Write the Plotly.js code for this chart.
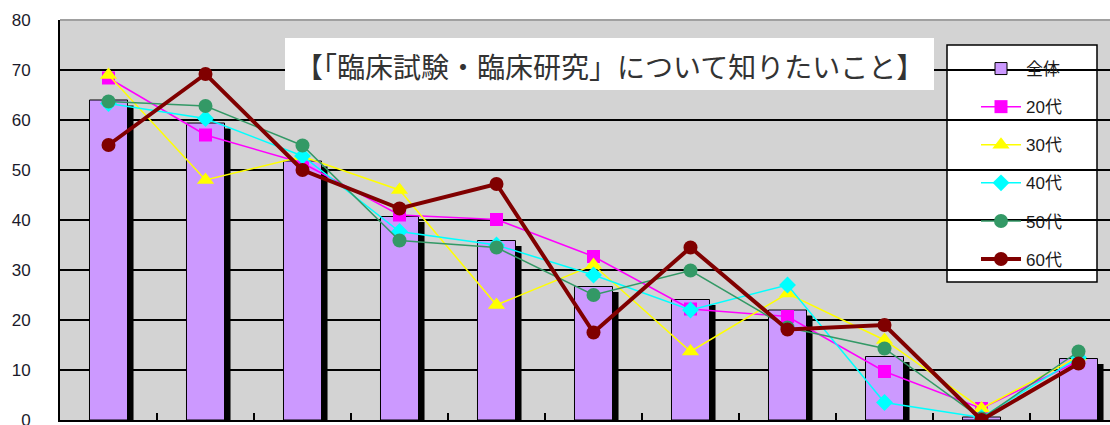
<!DOCTYPE html>
<html>
<head>
<meta charset="utf-8">
<script src="https://cdn.plot.ly/plotly-3.0.1.min.js"></script>
<style>
html,body{margin:0;padding:0;overflow:hidden;background:#fff;width:1110px;height:425px;}
#chart{width:1135px;height:460px;}
</style>
</head>
<body>
<div id="chart"></div>
<script>
// categories (x-axis labels are cut off in the reference, so they are not shown)
const categories = ["1","2","3","4","5","6","7","8","9","10","11"];
const seriesNames = ["全体","20代","30代","40代","50代","60代"];
const titleText = "【「臨床試験・臨床研究」について知りたいこと】";
const yTicks = [0,10,20,30,40,50,60,70,80];

const all   = [64, 59.4, 51.8, 40.7, 35.9, 26.7, 24.1, 22, 12.7, 0.6, 12.3];
const age20 = [68.4, 57, 51.4, 41, 40.1, 32.7, 22.2, 20.7, 9.7, 2.3, 11.8];
const age30 = [69, 48, 52.7, 46, 23, 31, 13.7, 25.3, 16, 2.3, 12.7];
const age40 = [63.3, 60.3, 52.8, 37.7, 35, 29, 22, 27, 3.5, 0.5, 12.5];
const age50 = [63.7, 62.8, 54.9, 35.9, 34.5, 25, 29.9, 18.5, 14.3, 0.3, 13.7];
const age60 = [55, 69.2, 50, 42.3, 47.2, 17.5, 34.5, 18.1, 19, 0, 11.3];

const font = "Liberation Sans, Arial, 'Noto Sans CJK JP', sans-serif";
const cjk = "'Noto Sans CJK JP', sans-serif";

function line(name, y, color, width, symbol, size, group){
  return {type:'scatter', mode:'lines+markers', name:name, x:categories, y:y,
    legendgroup:group,
    line:{color:color, width:width},
    marker:{color:color, symbol:symbol, size:size, line:{width:0}}};
}

const traces = [
  {type:'bar', x:categories, y:all, base:-1.1, width:0.392, offset:-0.134,
   marker:{color:'#000000', line:{width:0}}, showlegend:false, hoverinfo:'skip', legendgroup:'g0s'},
  {type:'bar', name:seriesNames[0], x:categories, y:all, width:0.392, offset:-0.196,
   marker:{color:'#cc99ff', line:{color:'#000000', width:1}}, legendgroup:'g0'},
  line(seriesNames[1], age20, '#ff00ff', 1.5, 'square', 13, 'g1'),
  line(seriesNames[2], age30, '#ffff00', 1.5, 'triangle-up', 15, 'g2'),
  line(seriesNames[3], age40, '#00ffff', 1.5, 'diamond', 13, 'g3'),
  line(seriesNames[4], age50, '#339966', 1.5, 'circle', 14, 'g4'),
  line(seriesNames[5], age60, '#800000', 4, 'circle', 14, 'g5')
];

const px = v => (v-60)/1067;
const py = v => (420-v)/400;

const layout = {
  width:1135, height:460,
  margin:{l:60, r:8, t:20, b:40},
  paper_bgcolor:'#ffffff',
  plot_bgcolor:'#d3d3d3',
  barmode:'overlay',
  showlegend:true,
  font:{family:font, color:'#1a1a1a'},
  xaxis:{type:'category', range:[-0.5,10.5], showgrid:false, showticklabels:false,
    ticks:'inside', tickson:'boundaries', ticklen:7, tickwidth:1.5, tickcolor:'#000',
    showline:true, linecolor:'#000', linewidth:2, zeroline:false, fixedrange:true},
  xaxis2:{overlaying:'x', anchor:'y', range:[0,1067], tick0:28, dtick:61.9,
    showgrid:true, gridcolor:'#c3c3c3', gridwidth:1, showticklabels:false, ticks:'',
    showline:false, zeroline:false},
  yaxis:{range:[0,80], tickvals:yTicks, showgrid:true, gridcolor:'#000', gridwidth:1.5,
    ticks:'inside', ticklen:8, tickwidth:1.5, tickcolor:'#000',
    ticklabelstandoff:24,
    tickfont:{family:font, size:17, color:'#1a1a2a'},
    showline:true, linecolor:'#000', linewidth:2, zeroline:false, fixedrange:true},
  legend:{x:px(976), y:py(51), xanchor:'left', yanchor:'top', bgcolor:'rgba(0,0,0,0)',
    borderwidth:0, font:{family:font, size:17, color:'#1a1a1a'},
    traceorder:'grouped', tracegroupgap:13, itemwidth:40},
  shapes:[
    {type:'line', xref:'paper', yref:'paper', x0:0, x1:1, y0:1, y1:1,
     line:{color:'#a0a0a0', width:2}, layer:'between'},
    {type:'rect', xref:'paper', yref:'paper', x0:px(285), x1:px(934), y0:py(90), y1:py(38),
     fillcolor:'#ffffff', line:{width:0}, layer:'above'},
    {type:'rect', xref:'paper', yref:'paper', x0:px(947), x1:px(1097), y0:py(282), y1:py(45),
     fillcolor:'#ffffff', line:{color:'#000', width:1.5}, layer:'below'}
  ],
  annotations:[
    {xref:'paper', yref:'paper', x:px(609), y:py(66), xanchor:'center', yanchor:'middle',
     text:titleText, showarrow:false, font:{family:cjk, size:28, color:'#333333'}}
  ]
};

Plotly.newPlot('chart', traces, layout, {displayModeBar:false, staticPlot:true});
</script>
</body>
</html>
